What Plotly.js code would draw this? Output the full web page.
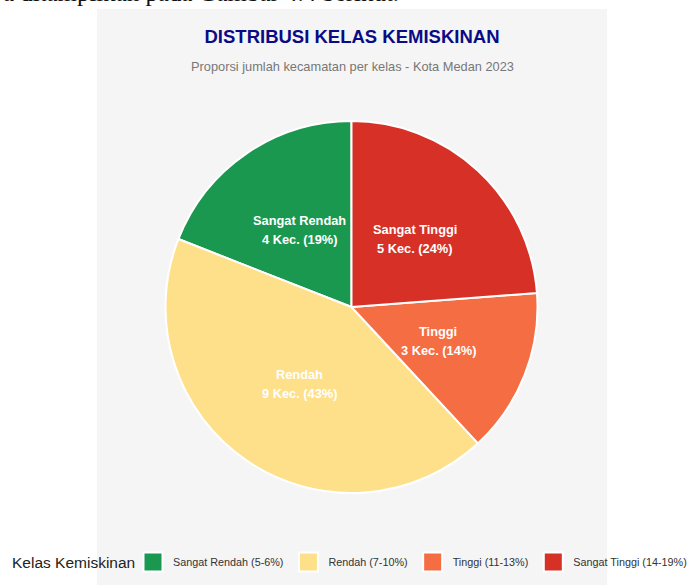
<!DOCTYPE html>
<html>
<head>
<meta charset="utf-8">
<script src="https://cdn.plot.ly/plotly-3.0.1.min.js"></script>
<style>
html, body { margin: 0; padding: 0; background: #ffffff; }
#chart { width: 692px; height: 585px; }
</style>
</head>
<body>
<div id="chart"></div>
<script>
// ---- data ----
const categories = ["Sangat Rendah", "Rendah", "Tinggi", "Sangat Tinggi"];
const classRanges = ["5-6%", "7-10%", "11-13%", "14-19%"];
const districtCounts = [4, 9, 3, 5];
const sliceColors = ["#1a9850", "#fee08b", "#f46d43", "#d73027"];

const chartTitle = "DISTRIBUSI KELAS KEMISKINAN";
const chartSubtitle = "Proporsi jumlah kecamatan per kelas - Kota Medan 2023";
const legendTitle = "Kelas Kemiskinan";
const docText = "a ditampilkan pada Gambar 4.4 berikut.";

const legendLabels = categories.map((c, i) => c + " (" + classRanges[i] + ")");
const totalCount = districtCounts.reduce((a, b) => a + b, 0);
// first slice starts at 12 o'clock and runs counterclockwise
const startRotation = -360 * districtCounts[0] / totalCount;

const W = 692, H = 585;
const px = v => v / W;
const py = v => 1 - v / H;

// pie geometry (layout)
const pieCx = 351.5, pieCy = 307, pieR = 186;
const labelRadius = 0.5;

const data = [{
  type: "pie",
  labels: legendLabels,
  values: districtCounts,
  textinfo: "none",
  sort: false,
  direction: "counterclockwise",
  rotation: startRotation,
  marker: { colors: sliceColors, line: { color: "#ffffff", width: 2 } },
  domain: { x: [px(pieCx - pieR), px(pieCx + pieR)], y: [py(pieCy + pieR), py(pieCy - pieR)] },
  hoverinfo: "none"
}];

// slice labels placed at half radius along each slice's middle angle
const labelFont = { family: "Liberation Sans, Arial, sans-serif", size: 12.8, color: "#ffffff" };
const sliceAnnotations = [];
let cum = 0;
districtCounts.forEach((v, i) => {
  const midFrac = (cum + v / 2) / totalCount;
  cum += v;
  const theta = -2 * Math.PI * midFrac; // counterclockwise from 12 o'clock
  const lx = pieCx + labelRadius * pieR * Math.sin(theta);
  const ly = pieCy - labelRadius * pieR * Math.cos(theta);
  const pct = Math.round(100 * v / totalCount);
  sliceAnnotations.push({
    text: "<b>" + categories[i] + "</b>", xref: "paper", yref: "paper",
    x: px(lx), y: py(ly), xanchor: "center", yanchor: "middle", yshift: 9.5,
    showarrow: false, font: labelFont
  });
  sliceAnnotations.push({
    text: "<b>" + v + " Kec. (" + pct + "%)</b>", xref: "paper", yref: "paper",
    x: px(lx), y: py(ly), xanchor: "center", yanchor: "middle", yshift: -9.5,
    showarrow: false, font: labelFont
  });
});

const layout = {
  width: W,
  height: H,
  margin: { l: 0, r: 0, t: 0, b: 0 },
  paper_bgcolor: "#ffffff",
  font: { family: "Liberation Sans, Arial, sans-serif", color: "#333333" },
  title: {
    text: "<b>" + chartTitle + "</b>",
    x: px(352), xref: "container", xanchor: "center",
    y: py(37), yref: "container", yanchor: "middle",
    font: { family: "Liberation Sans, Arial, sans-serif", size: 18.5, color: "#0b0b86" }
  },
  shapes: [{
    type: "rect", xref: "paper", yref: "paper", layer: "below",
    x0: px(97), x1: px(607), y0: 0, y1: py(9),
    fillcolor: "#f5f5f5", line: { width: 0 }
  }],
  annotations: [
    {
      text: chartSubtitle, xref: "paper", yref: "paper",
      x: px(352), y: py(66), xanchor: "center", yanchor: "middle",
      showarrow: false,
      font: { family: "Liberation Sans, Arial, sans-serif", size: 12.8, color: "#777777" }
    },
    {
      text: docText, xref: "paper", yref: "paper",
      x: px(1), y: py(-8), xanchor: "left", yanchor: "middle",
      showarrow: false,
      font: { family: "Liberation Serif, Times New Roman, serif", size: 24.9, color: "#111111" }
    },
    {
      text: legendTitle, xref: "paper", yref: "paper",
      x: px(10), y: py(562), xanchor: "left", yanchor: "middle",
      showarrow: false,
      font: { family: "Liberation Sans, Arial, sans-serif", size: 15.5, color: "#222222" }
    }
  ].concat(sliceAnnotations),
  showlegend: true,
  legend: {
    orientation: "h",
    x: px(133), xanchor: "left",
    y: py(562), yanchor: "middle",
    bgcolor: "rgba(0,0,0,0)",
    traceorder: "normal",
    font: { family: "Liberation Sans, Arial, sans-serif", size: 10.8, color: "#333333" }
  }
};

Plotly.newPlot("chart", data, layout, { displayModeBar: false, staticPlot: true }).then(gd => {
  gd.querySelectorAll(".legendpoints path").forEach(p => {
    p.setAttribute("d", "M9.5,9.5H-9.5V-9.5H9.5Z");
  });
});
</script>
</body>
</html>
